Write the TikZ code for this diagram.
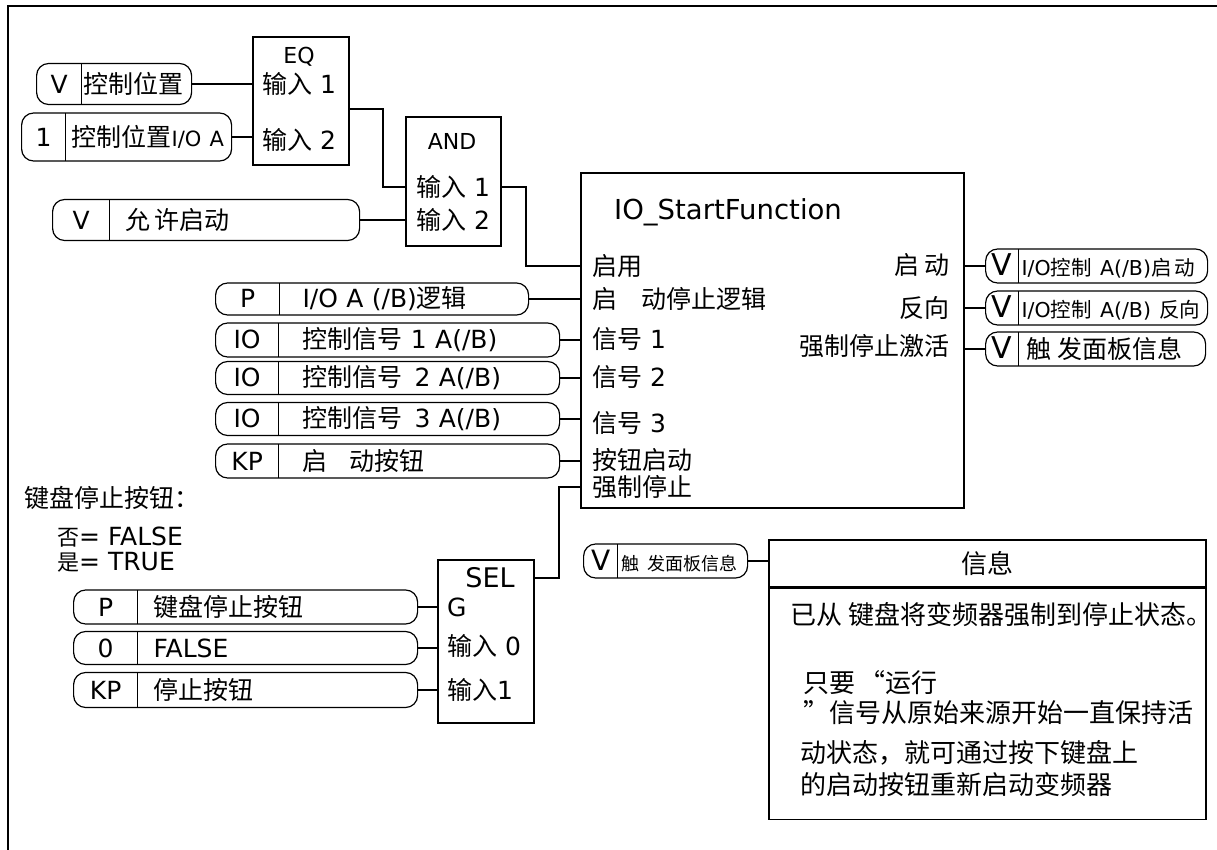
\documentclass[tikz,border=0pt]{standalone}
\usepackage{fontspec}
\setmainfont{DejaVu Sans}
\newfontfamily\zhfont{Noto Sans CJK SC}
\newcommand{\zh}[1]{{\zhfont #1}}
\newcommand{\fsz}[1]{\fontsize{#1}{#1}\selectfont}
\newcommand{\tagcell}[2]{\makebox[#1pt]{#2}}
\usetikzlibrary{calc, positioning}
\tikzset{
  block/.style={
    draw,
    line width=2pt,
    anchor=north west,
    inner sep=0pt
  },
  pill/.style n args={3}{
    draw,
    line width=1.2pt,
    rounded corners=12pt,
    inner sep=0pt,
    anchor=west,
    text width=#1pt,
    minimum height=#2pt,
    align=left,
    path picture={\draw[line width=1.2pt]
      ([xshift=#3pt]path picture bounding box.north west) --
      ([xshift=#3pt]path picture bounding box.south west);}
  },
  port/.style={anchor=west, inner sep=0pt},
  outport/.style={anchor=east, inner sep=0pt},
  wire/.style={line width=1.6pt},
  frame/.style={line width=2pt}
}

\begin{document}
\begin{tikzpicture}[x=1pt, y=-1pt, font=\fsz{25}]
\useasboundingbox (0,0) rectangle (1217,850);
\draw[frame] (8,850) -- (8,6) -- (1217,6);

% --- EQ ---
\node[block, minimum width=96, minimum height=128] (eq) at (252,36) {};
\node (eqname) at (299,57) {\fsz{22}EQ};
\node[port] (eqin1) at (262,84) {\zh{输入}\ 1};
\node[port] (eqin2) at (262,140) {\zh{输入}\ 2};

% --- AND ---
\node[block, minimum width=95, minimum height=129] (andg) at (405,116) {};
\node (andname) at (452,141) {\fsz{22}AND};
\node[port] (andin1) at (416,187) {\zh{输入}\ 1};
\node[port] (andin2) at (416,220) {\zh{输入}\ 2};

% --- IO_StartFunction ---
\node[block, minimum width=383, minimum height=335] (main) at (580,172) {};
\node[port] (title) at (614,212) {\fsz{27.5}IO\_StartFunction};
\node[port] (enable) at (592,266) {\zh{启用}};
\node[port] (logicin) at (592,299) {\zh{启\hspace{24pt}动停止逻辑}};
\node[port] (sig1in) at (592,339) {\zh{信号}\ 1};
\node[port] (sig2in) at (592,377) {\zh{信号}\ 2};
\node[port] (sig3in) at (592,423) {\zh{信号}\ 3};
\node[port] (btnin) at (592,460) {\zh{按钮启动}};
\node[port] (fstopin) at (592,487) {\zh{强制停止}};
\node[outport] (startout) at (950,265) {\zh{启\hspace{5pt}动}};
\node[outport] (revout) at (950,308) {\zh{反向}};
\node[outport] (fsout) at (950,346) {\zh{强制停止激活}};

% --- SEL ---
\node[block, minimum width=96, minimum height=163] (sel) at (437,559) {};
\node (selname) at (490,578) {\fsz{27}SEL};
\node[port] (selg) at (447,607) {G};
\node[port] (selin0) at (447,646) {\zh{输入}\ 0};
\node[port] (selin1) at (447,690) {\zh{输入}1};

% --- Eingangs-Pillen ---
\node[pill={155}{41}{45}] (ctrlpos) at (36,84)
  {\tagcell{45}{\fsz{25}V}\hspace{2pt}\zh{控制位置}};
\node[pill={210}{48}{44}] (ctrlioa) at (21,137)
  {\tagcell{44}{\fsz{25}1}\hspace{6pt}\zh{控制位置}{\fsz{21}I/O~A}};
\node[pill={307}{41}{57}] (startok) at (52,220)
  {\tagcell{57}{\fsz{25}V}\hspace{16pt}\zh{允\hspace{4pt}许启动}};
\node[pill={313}{32}{64}] (logic) at (215,299)
  {\tagcell{64}{P}\hspace{23pt}I/O~A~(/B)\zh{逻辑}};
\node[pill={344}{34}{63}] (sig1) at (215,340)
  {\tagcell{63}{IO}\hspace{24pt}\zh{控制信号}~1~A(/B)};
\node[pill={344}{33}{63}] (sig2) at (215,378)
  {\tagcell{63}{IO}\hspace{24pt}\zh{控制信号}\hspace{12pt}2~A(/B)};
\node[pill={344}{33}{63}] (sig3) at (215,419)
  {\tagcell{63}{IO}\hspace{24pt}\zh{控制信号}\hspace{12pt}3~A(/B)};
\node[pill={344}{34}{63}] (kpstart) at (215,461)
  {\tagcell{63}{KP}\hspace{24pt}\zh{启\hspace{22pt}动按钮}};

% --- Ausgangs-Pillen ---
\node[pill={222}{34}{33}] (vstart) at (985,266)
  {\tagcell{33}{\fsz{30}V}\hspace{3pt}{\fsz{20.5}I/O\zh{控制}~A(/B)\zh{启\hspace{3pt}动}}};
\node[pill={222}{34}{33}] (vrev) at (985,308)
  {\tagcell{33}{\fsz{30}V}\hspace{3pt}{\fsz{20.5}I/O\zh{控制}~A(/B)~\zh{反向}}};
\node[pill={220}{34}{33}] (vmsg) at (985,349)
  {\tagcell{33}{\fsz{30}V}\hspace{8pt}{\fsz{25}\zh{触\hspace{6pt}发面板信息}}};

% --- SEL-Pillen ---
\node[pill={344}{34}{64}] (kpstop) at (73,607)
  {\tagcell{64}{P}\hspace{16pt}\zh{键盘停止按钮}};
\node[pill={344}{33}{64}] (falsev) at (73,648)
  {\tagcell{64}{0}\hspace{16pt}FALSE};
\node[pill={344}{35}{64}] (kpbtn) at (73,690)
  {\tagcell{64}{KP}\hspace{16pt}\zh{停止按钮}};

% --- Hinweis links ---
\node[port] (kpnote) at (24,498) {\zh{键盘停止按钮：}};
\node[port] (noval) at (57,537) {{\fsz{22}\zh{否}}= FALSE};
\node[port] (yesval) at (57,562) {{\fsz{22}\zh{是}}= TRUE};

% --- Info ---
\node[pill={164}{34}{34}] (vpanel) at (583,561)
  {\tagcell{34}{\fsz{28}V}\hspace{4pt}{\fsz{18}\zh{触\hspace{8pt}发面板信息}}};
\node[block, line width=1.5pt, minimum width=437, minimum height=47] (infohead) at (768,539) {\fsz{26}\zh{信息}};
\node[block, line width=1.5pt, minimum width=437, minimum height=231,
      below=0pt of infohead.south west, anchor=north west] (infobody) {};
\node[port] (msg1) at (790,615) {\fsz{26}\zh{已从\hspace{6pt}键盘将变频器强制到停止状态。}};
\node[port] (msg2) at (803,683) {\fsz{26}\zh{只要\hspace{4pt}“运行}};
\node[port] (msg3) at (803,713) {\fsz{26}\zh{”信号从原始来源开始一直保持活}};
\node[port] (msg4) at (800,753) {\fsz{26}\zh{动状态，就可通过按下键盘上}};
\node[port] (msg5) at (800,785) {\fsz{26}\zh{的启动按钮重新启动变频器}};

% --- Verbindungen ---
\draw[wire] (ctrlpos.east) -- (ctrlpos.east -| eq.west);
\draw[wire] (ctrlioa.east) -- (ctrlioa.east -| eq.west);
\draw[wire] ($(eq.east)+(0,8)$) -- ++(33,0) |- (andg.west |- andin1);
\draw[wire] (startok.east) -- (startok.east -| andg.west);
\draw[wire] (andg.east |- andin1) -- ++(24,0) |- (main.west |- enable);
\draw[wire] (logic.east) -- (logic.east -| main.west);
\draw[wire] (sig1.east) -- (sig1.east -| main.west);
\draw[wire] (sig2.east) -- (sig2.east -| main.west);
\draw[wire] (sig3.east) -- (sig3.east -| main.west);
\draw[wire] (kpstart.east) -- (kpstart.east -| main.west);
\draw[wire] (sel.east |- selname) -- ++(24,0) |- (main.west |- fstopin);
\draw[wire] (vstart.west -| main.east) -- (vstart.west);
\draw[wire] (vrev.west -| main.east) -- (vrev.west);
\draw[wire] (vmsg.west -| main.east) -- (vmsg.west);
\draw[wire] (kpstop.east) -- (kpstop.east -| sel.west);
\draw[wire] (falsev.east) -- (falsev.east -| sel.west);
\draw[wire] (kpbtn.east) -- (kpbtn.east -| sel.west);
\draw[wire] (vpanel.east) -- (vpanel.east -| infohead.west);

\end{tikzpicture}
\end{document}
